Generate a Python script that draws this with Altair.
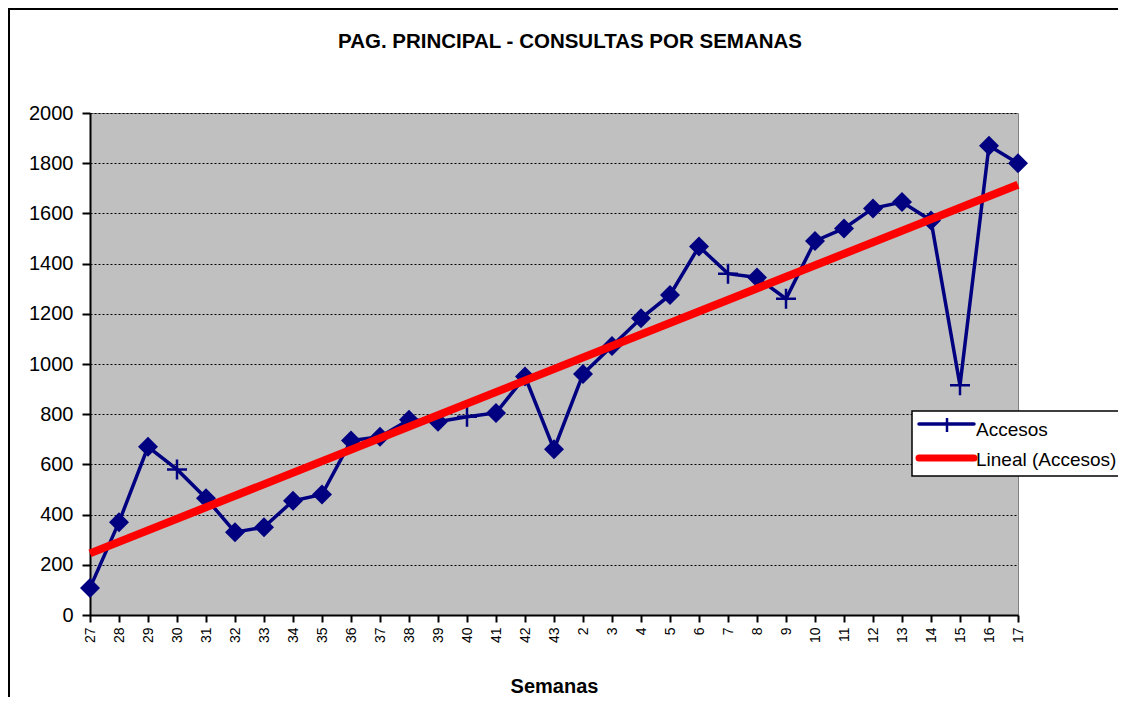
import altair as alt
import pandas as pd

# ---- data ----
semanas = ['27', '28', '29', '30', '31', '32', '33', '34', '35', '36', '37', '38', '39',
           '40', '41', '42', '43', '2', '3', '4', '5', '6', '7', '8', '9', '10', '11',
           '12', '13', '14', '15', '16', '17']
accesos = [108, 370, 670, 580, 465, 330, 350, 455, 480, 695, 710, 778, 770,
           790, 805, 950, 660, 960, 1072, 1182, 1275, 1468, 1360, 1345, 1260, 1490, 1540,
           1620, 1645, 1572, 915, 1870, 1800]
marcador = ['d', 'd', 'd', 'p', 'd', 'd', 'd', 'd', 'd', 'd', 'd', 'd', 'd',
            'p', 'd', 'd', 'd', 'd', 'd', 'd', 'd', 'd', 'p', 'd', 'p', 'd', 'd',
            'd', 'd', 'd', 'p', 'd', 'd']
y_ticks = [0, 200, 400, 600, 800, 1000, 1200, 1400, 1600, 1800, 2000]

titulo = "PAG. PRINCIPAL - CONSULTAS POR SEMANAS"
titulo_x = "Semanas"
serie = "Accesos"
tendencia = "Lineal (Accesos)"

NAVY = '#000080'
RED = '#FF0000'
FONT = 'Liberation Sans'
PLUS = "M0,-1L0,1M-1,0L1,0"

df = pd.DataFrame({'i': list(range(len(semanas))), 'semana': semanas,
                   'valor': accesos, 'marcador': marcador})

x_enc = alt.X('semana:O',
              sort=semanas,
              scale=alt.Scale(type='point', domain=semanas, padding=0),
              axis=alt.Axis(labelAngle=-90, labelFontSize=14, labelPadding=5,
                            labelOverlap=False, labelBound=False, labelFlush=False,
                            tickSize=7, grid=False, title=titulo_x,
                            titleFontSize=20, titleFontWeight='bold',
                            titlePadding=34))
y_enc = alt.Y('valor:Q',
              scale=alt.Scale(domain=[0, 2000], nice=False),
              axis=alt.Axis(values=y_ticks, format='d', title=None, grid=True,
                            gridColor='black', gridDash=[2, 2], gridWidth=1,
                            labelFontSize=20, tickSize=8, labelPadding=9,
                            labelOverlap=False, labelFlush=False))

base = alt.Chart(df)

linea = base.mark_line(color=NAVY, strokeWidth=3.5).encode(x=x_enc, y=y_enc)

diamantes = base.transform_filter(alt.datum.marcador == 'd').mark_point(
    shape='diamond', filled=True, size=400, color=NAVY, opacity=1
).encode(x=alt.X('semana:O', sort=semanas), y='valor:Q')

cruces = base.transform_filter(alt.datum.marcador == 'p').mark_point(
    shape=PLUS, filled=False, size=400, stroke=NAVY, strokeWidth=2.5, opacity=1
).encode(x=alt.X('semana:O', sort=semanas), y='valor:Q')

# least-squares trend over the week index, mapped back to the week labels
trend = base.transform_regression('i', 'valor').transform_lookup(
    lookup='i', from_=alt.LookupData(df, 'i', ['semana'])
).mark_line(color=RED, strokeWidth=8).encode(
    x=alt.X('semana:O', sort=semanas), y='valor:Q')

one = alt.Chart(pd.DataFrame({'t': [titulo]}))

borde = one.mark_rect(fill=None, stroke='black', strokeWidth=2).encode(
    x=alt.value(-81), x2=alt.value(1100), y=alt.value(-104), y2=alt.value(700))

titulo_mark = one.mark_text(font=FONT, fontSize=20.5, fontWeight='bold',
                            baseline='middle', align='center', color='black').encode(
    x=alt.value(480), y=alt.value(-71), text='t:N')

# legend (manual, Excel-style)
leg_box = one.mark_rect(fill='white', stroke='black', strokeWidth=1.5).encode(
    x=alt.value(822), x2=alt.value(1060), y=alt.value(298), y2=alt.value(363))
leg_l1 = one.mark_rule(color=NAVY, strokeWidth=3.5, strokeCap='round').encode(
    x=alt.value(829), x2=alt.value(884), y=alt.value(311))
leg_p1 = one.mark_rule(color=NAVY, strokeWidth=2.5).encode(
    x=alt.value(857), y=alt.value(305), y2=alt.value(319))
leg_t1 = alt.Chart(pd.DataFrame({'t': [serie]})).mark_text(
    font=FONT, fontSize=19, align='left', baseline='alphabetic', color='black').encode(
    x=alt.value(886), y=alt.value(323), text='t:N')
leg_l2 = one.mark_rule(color=RED, strokeWidth=7, strokeCap='round').encode(
    x=alt.value(829), x2=alt.value(884), y=alt.value(345))
leg_t2 = alt.Chart(pd.DataFrame({'t': [tendencia]})).mark_text(
    font=FONT, fontSize=19, align='left', baseline='alphabetic', color='black').encode(
    x=alt.value(886), y=alt.value(353), text='t:N')

chart = alt.layer(
    linea, diamantes, cruces, trend, borde, titulo_mark,
    leg_box, leg_l1, leg_p1, leg_t1, leg_l2, leg_t2
).properties(
    width=928, height=502,
    autosize=alt.AutoSizeParams(type='none'),
    padding={'left': 82, 'top': 105, 'right': 100, 'bottom': 82},
    background='white'
).configure_view(
    fill='#C0C0C0', stroke='#808080', strokeWidth=1
).configure_axis(
    domainColor='black', domainWidth=2, tickColor='black', tickWidth=2,
    labelColor='black', labelFont=FONT, titleFont=FONT, titleColor='black'
)

chart.save("out.html", embed_options={"renderer": "svg", "actions": False})
